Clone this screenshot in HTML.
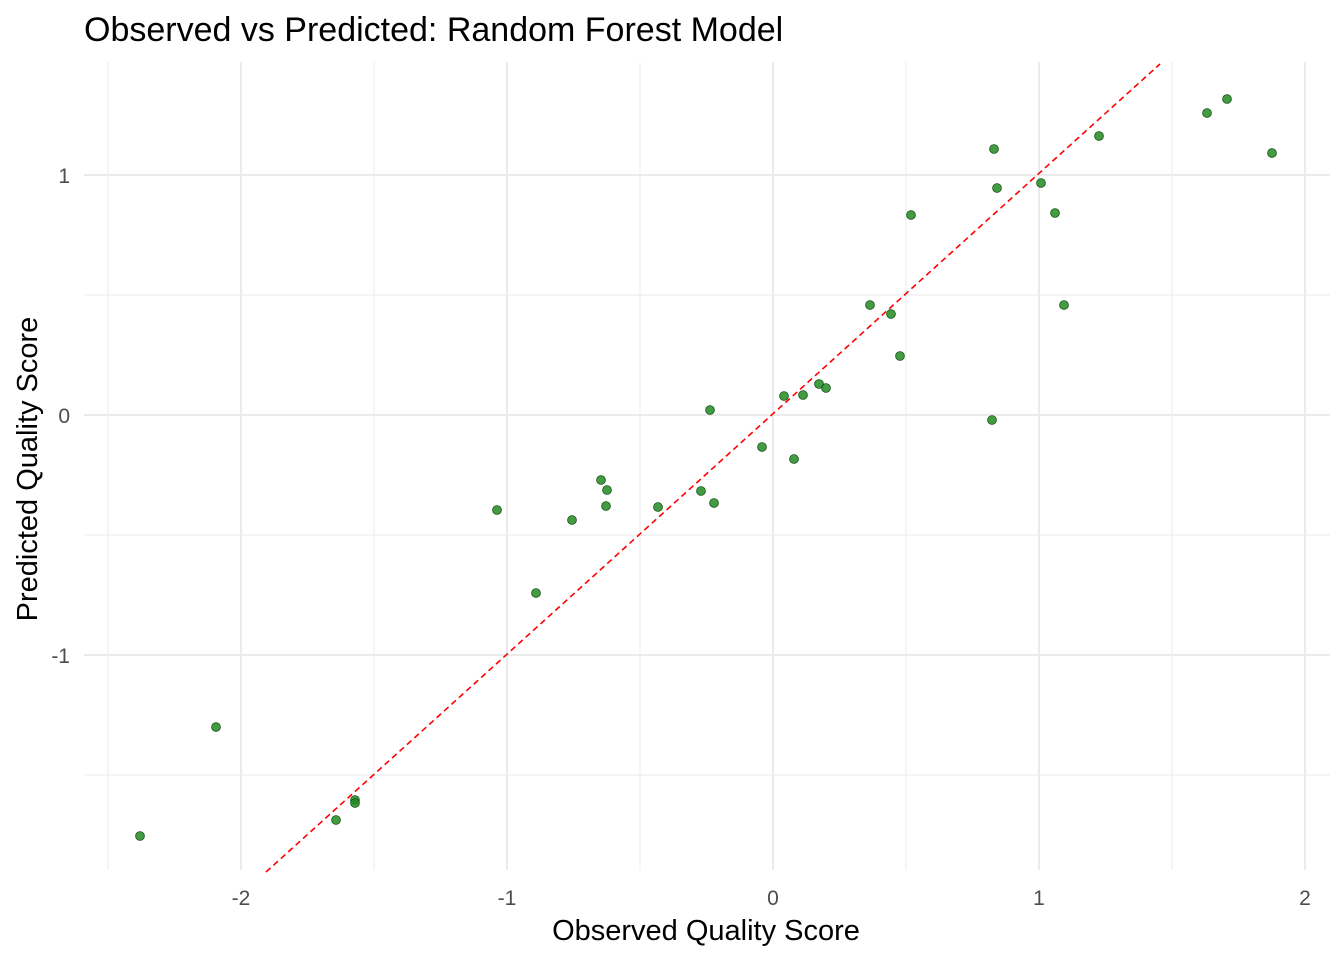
<!DOCTYPE html>
<html><head><meta charset="utf-8"><style>
html,body{margin:0;padding:0;background:#fff;}
svg{display:block;font-family:"Liberation Sans",Arial,sans-serif;}
</style></head><body>
<svg width="1344" height="960" xmlns="http://www.w3.org/2000/svg">
<rect width="1344" height="960" fill="#fff"/>
<g stroke="#ebebeb" stroke-width="1">
<line x1="108" y1="62" x2="108" y2="870"/><line x1="374" y1="62" x2="374" y2="870"/><line x1="640" y1="62" x2="640" y2="870"/><line x1="906" y1="62" x2="906" y2="870"/><line x1="1172" y1="62" x2="1172" y2="870"/>
<line x1="84" y1="295" x2="1330" y2="295"/><line x1="84" y1="535" x2="1330" y2="535"/><line x1="84" y1="775" x2="1330" y2="775"/>
</g>
<g stroke="#ebebeb" stroke-width="2">
<line x1="241" y1="62" x2="241" y2="870"/><line x1="507" y1="62" x2="507" y2="870"/><line x1="773" y1="62" x2="773" y2="870"/><line x1="1039" y1="62" x2="1039" y2="870"/><line x1="1305" y1="62" x2="1305" y2="870"/>
<line x1="84" y1="175" x2="1330" y2="175"/><line x1="84" y1="415" x2="1330" y2="415"/><line x1="84" y1="655" x2="1330" y2="655"/>
</g>
<line x1="266" y1="872" x2="1160" y2="64" stroke="#ff0000" stroke-width="1.6" stroke-dasharray="6,4"/>
<g fill="#228B22" fill-opacity="0.85" stroke="#0f4f0f" stroke-width="0.8">
<circle cx="140" cy="836" r="4.4"/><circle cx="216" cy="727" r="4.4"/><circle cx="336" cy="820" r="4.4"/><circle cx="355" cy="800" r="4.4"/><circle cx="355" cy="803" r="4.4"/><circle cx="497" cy="510" r="4.4"/><circle cx="536" cy="593" r="4.4"/><circle cx="572" cy="520" r="4.4"/><circle cx="601" cy="480" r="4.4"/><circle cx="607" cy="490" r="4.4"/><circle cx="606" cy="506" r="4.4"/><circle cx="658" cy="507" r="4.4"/><circle cx="701" cy="491" r="4.4"/><circle cx="710" cy="410" r="4.4"/><circle cx="714" cy="503" r="4.4"/><circle cx="762" cy="447" r="4.4"/><circle cx="784" cy="396" r="4.4"/><circle cx="794" cy="459" r="4.4"/><circle cx="803" cy="395" r="4.4"/><circle cx="819" cy="384" r="4.4"/><circle cx="826" cy="388" r="4.4"/><circle cx="870" cy="305" r="4.4"/><circle cx="891" cy="314" r="4.4"/><circle cx="900" cy="356" r="4.4"/><circle cx="911" cy="215" r="4.4"/><circle cx="992" cy="420" r="4.4"/><circle cx="994" cy="149" r="4.4"/><circle cx="997" cy="188" r="4.4"/><circle cx="1041" cy="183" r="4.4"/><circle cx="1055" cy="213" r="4.4"/><circle cx="1064" cy="305" r="4.4"/><circle cx="1099" cy="136" r="4.4"/><circle cx="1207" cy="113" r="4.4"/><circle cx="1227" cy="99" r="4.4"/><circle cx="1272" cy="153" r="4.4"/>
</g>
<g fill="#4d4d4d" font-size="21" text-anchor="middle">
<text x="241" y="905">-2</text><text x="507" y="905">-1</text><text x="773" y="905">0</text><text x="1039" y="905">1</text><text x="1305" y="905">2</text>
</g>
<g fill="#4d4d4d" font-size="21" text-anchor="end">
<text x="70" y="183">1</text><text x="70" y="423">0</text><text x="70" y="663">-1</text>
</g>
<text x="706" y="940" font-size="29" text-anchor="middle" fill="#000">Observed Quality Score</text>
<text transform="translate(37,469) rotate(-90)" font-size="29" text-anchor="middle" fill="#000">Predicted Quality Score</text>
<text x="84" y="41" font-size="34" fill="#000">Observed vs Predicted: Random Forest Model</text>
</svg>
</body></html>
